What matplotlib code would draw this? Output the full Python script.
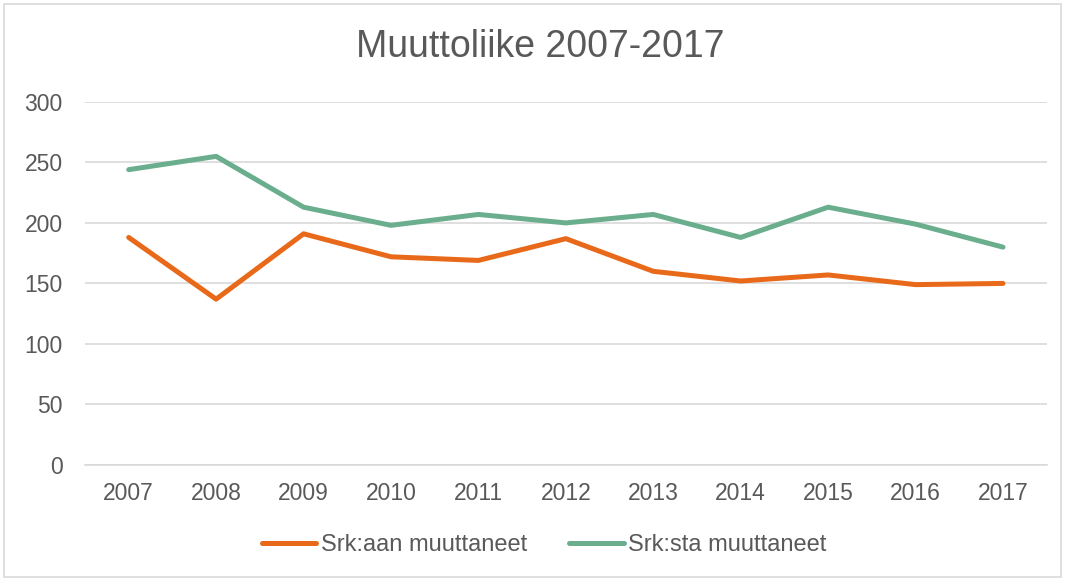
import matplotlib
matplotlib.use("Agg")
import matplotlib.pyplot as plt
from matplotlib.patches import Rectangle

plt.rcParams["font.family"] = ["Liberation Sans", "DejaVu Sans"]

# ── Data ───────────────────────────────────────────────────────────────────
years = ["2007", "2008", "2009", "2010", "2011", "2012",
         "2013", "2014", "2015", "2016", "2017"]
srk_aan = [188, 137, 191, 172, 169, 187, 160, 152, 157, 149, 150]
srk_sta = [244, 255, 213, 198, 207, 200, 207, 188, 213, 199, 180]

C_ORANGE = "#E8691A"
C_GREEN = "#6AAE8E"
C_TEXT = "#595959"
C_GRID = "#D9D9D9"

fig = plt.figure(figsize=(10.65, 5.79), dpi=100)
ax = fig.add_axes([0.0798, 0.197, 0.903, 0.627])

x = range(len(years))
ax.plot(x, srk_aan, color=C_ORANGE, linewidth=3.6, solid_capstyle="round",
        solid_joinstyle="round", label="Srk:aan muuttaneet")
ax.plot(x, srk_sta, color=C_GREEN, linewidth=3.6, solid_capstyle="round",
        solid_joinstyle="round", label="Srk:sta muuttaneet")

ax.set_xlim(-0.5, len(years) - 0.5)
ax.set_ylim(0, 300)
ax.set_yticks(range(0, 301, 50))
ax.set_xticks(list(x))
ax.set_xticklabels(years)

ax.grid(axis="y", color=C_GRID, linewidth=1.2)
ax.set_axisbelow(True)
for side in ["top", "right", "left"]:
    ax.spines[side].set_visible(False)
ax.spines["bottom"].set_color(C_GRID)
ax.spines["bottom"].set_linewidth(1.2)
ax.tick_params(axis="both", length=0, labelsize=16.5, labelcolor=C_TEXT)
ax.tick_params(axis="x", pad=12)
ax.tick_params(axis="y", pad=16)

fig.text(0.507, 0.918, "Muuttoliike 2007-2017", ha="center", va="center",
         fontsize=27, color=C_TEXT)

leg = fig.legend(loc="center", bbox_to_anchor=(0.511, 0.058), ncol=2,
                 frameon=False, fontsize=17, handlelength=2.3,
                 handletextpad=0.2, columnspacing=1.8)
for t in leg.get_texts():
    t.set_color(C_TEXT)

# outer chart border
fig.patches.append(Rectangle((0.004, 0.003), 0.992, 0.990,
                             transform=fig.transFigure, fill=False,
                             edgecolor=C_GRID, linewidth=1.2))

fig.savefig("out.png", dpi=100, facecolor="white")
